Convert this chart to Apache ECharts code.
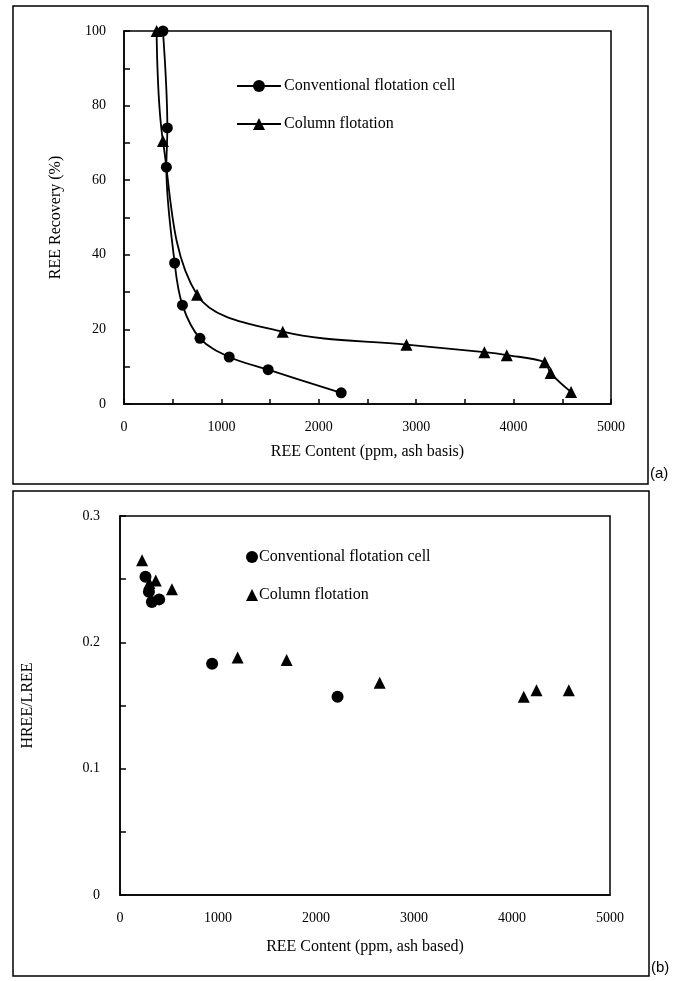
<!DOCTYPE html>
<html>
<head>
<meta charset="utf-8">
<script src="https://cdn.jsdelivr.net/npm/echarts@6/dist/echarts.min.js"></script>
<style>
    html, body { margin: 0; padding: 0; background: #fff; }
    #main { width: 686px; height: 981px; }
</style>
</head>
<body>
<div id="main"></div>
<script>
    // (a) REE recovery vs REE content
    let convContent = [400, 445, 435, 520, 600, 780, 1080, 1480, 2230];
    let convRecovery = [100, 74, 63.5, 37.8, 26.5, 17.6, 12.6, 9.2, 3.0];
    let colContent = [335, 400, 750, 1630, 2900, 3700, 3930, 4320, 4380, 4590];
    let colRecovery = [100, 70.5, 29.3, 19.4, 15.9, 13.9, 13.1, 11.2, 8.3, 3.2];

    // (b) HREE/LREE vs REE content
    let convContentB = [260, 295, 325, 400, 940, 2220];
    let convRatio = [0.252, 0.240, 0.232, 0.234, 0.183, 0.157];
    let colContentB = [225, 300, 365, 530, 1200, 1700, 2650, 4120, 4250, 4580];
    let colRatio = [0.265, 0.247, 0.249, 0.242, 0.188, 0.186, 0.168, 0.157, 0.162, 0.162];

    let seriesNames = ['Conventional flotation cell', 'Column flotation'];

    function pairs(xs, ys) {
        let out = [];
        for (let i = 0; i < xs.length; i++) {
            out.push([xs[i], ys[i]]);
        }
        return out;
    }

    let serif = 'Liberation Serif';
    let labelStyle = { color: '#000', fontFamily: serif, fontSize: 14 };
    let titleStyle = { color: '#000', fontFamily: serif, fontSize: 16 };

    let myChart = echarts.init(document.getElementById('main'), null, { renderer: 'canvas' });

    myChart.setOption({
        animation: false,
        backgroundColor: '#fff',
        graphic: [
            // outer frames round each panel
            { type: 'rect', shape: { x: 13, y: 6, width: 635, height: 478 },
              style: { fill: 'none', stroke: '#000', lineWidth: 1.5 } },
            { type: 'rect', shape: { x: 13, y: 491, width: 636, height: 485 },
              style: { fill: 'none', stroke: '#000', lineWidth: 1.5 } },
            { type: 'text', left: 650, top: 466,
              style: { text: '(a)', fontFamily: 'Liberation Sans', fontSize: 15, fill: '#000' } },
            { type: 'text', left: 651, top: 960,
              style: { text: '(b)', fontFamily: 'Liberation Sans', fontSize: 15, fill: '#000' } }
        ],
        legend: [
            {
                left: 231, top: 73, orient: 'vertical', itemGap: 22,
                itemWidth: 44, itemHeight: 15,
                textStyle: { color: '#000', fontFamily: serif, fontSize: 16, padding: [0, 0, 0, -2] },
                data: [seriesNames[0], seriesNames[1]]
            },
            {
                left: 241, top: 544, orient: 'vertical', itemGap: 22,
                itemWidth: 12, itemHeight: 12,
                textStyle: { color: '#000', fontFamily: serif, fontSize: 16, padding: [0, 0, 0, -4] },
                data: [
                    { name: seriesNames[0] + ' ', icon: 'circle' },
                    { name: seriesNames[1] + ' ', icon: 'triangle' }
                ]
            }
        ],
        grid: [
            { left: 124, top: 31, width: 487, height: 373, show: true,
              borderColor: '#000', borderWidth: 1.5, backgroundColor: 'transparent' },
            { left: 120, top: 516, width: 490, height: 379, show: true,
              borderColor: '#000', borderWidth: 1.5, backgroundColor: 'transparent' }
        ],
        xAxis: [
            {
                gridIndex: 0, type: 'value', min: 0, max: 5000, interval: 500,
                name: 'REE Content (ppm, ash basis)', nameLocation: 'middle', nameGap: 40,
                nameTextStyle: titleStyle,
                axisLine: { lineStyle: { color: '#000', width: 1.5 } },
                axisTick: { inside: true, length: 5, lineStyle: { color: '#000', width: 1.5 } },
                axisLabel: Object.assign({ margin: 16, formatter: function (v) { return v % 1000 === 0 ? String(v) : ''; } }, labelStyle),
                splitLine: { show: false }
            },
            {
                gridIndex: 1, type: 'value', min: 0, max: 5000, interval: 1000,
                name: 'REE Content (ppm, ash based)', nameLocation: 'middle', nameGap: 44,
                nameTextStyle: titleStyle,
                axisLine: { lineStyle: { color: '#000', width: 1.5 } },
                axisTick: { show: false },
                axisLabel: Object.assign({ margin: 16, formatter: function (v) { return String(v); } }, labelStyle),
                splitLine: { show: false }
            }
        ],
        yAxis: [
            {
                gridIndex: 0, type: 'value', min: 0, max: 100, interval: 10,
                name: 'REE Recovery (%)', nameLocation: 'middle', nameGap: 60,
                nameTextStyle: titleStyle,
                axisLine: { lineStyle: { color: '#000', width: 1.5 } },
                axisTick: { inside: true, length: 6, lineStyle: { color: '#000', width: 1.5 } },
                axisLabel: Object.assign({ margin: 18, formatter: function (v) { return v % 20 === 0 ? String(v) : ''; } }, labelStyle),
                splitLine: { show: false }
            },
            {
                gridIndex: 1, type: 'value', min: 0, max: 0.3, interval: 0.05,
                name: 'HREE/LREE', nameLocation: 'middle', nameGap: 84,
                nameTextStyle: titleStyle,
                axisLine: { lineStyle: { color: '#000', width: 1.5 } },
                axisTick: { inside: true, length: 6, lineStyle: { color: '#000', width: 1.5 } },
                axisLabel: Object.assign({ margin: 20, formatter: function (v) {
                    let k = Math.round(v * 100);
                    return k % 10 === 0 ? String(k / 100) : '';
                } }, labelStyle),
                splitLine: { show: false }
            }
        ],
        series: [
            {
                name: seriesNames[0], type: 'line', xAxisIndex: 0, yAxisIndex: 0,
                smooth: 0.35, symbol: 'circle', symbolSize: 11,
                itemStyle: { color: '#000', opacity: 1 }, lineStyle: { color: '#000', width: 1.8 },
                data: pairs(convContent, convRecovery)
            },
            {
                name: seriesNames[1], type: 'line', xAxisIndex: 0, yAxisIndex: 0,
                smooth: 0.35, symbol: 'triangle', symbolSize: 12,
                itemStyle: { color: '#000', opacity: 1 }, lineStyle: { color: '#000', width: 1.8 },
                data: pairs(colContent, colRecovery)
            },
            {
                name: seriesNames[0] + ' ', type: 'scatter', xAxisIndex: 1, yAxisIndex: 1,
                symbol: 'circle', symbolSize: 12,
                itemStyle: { color: '#000', opacity: 1 },
                data: pairs(convContentB, convRatio)
            },
            {
                name: seriesNames[1] + ' ', type: 'scatter', xAxisIndex: 1, yAxisIndex: 1,
                symbol: 'triangle', symbolSize: 12,
                itemStyle: { color: '#000', opacity: 1 },
                data: pairs(colContentB, colRatio)
            }
        ]
    });
</script>
</body>
</html>
